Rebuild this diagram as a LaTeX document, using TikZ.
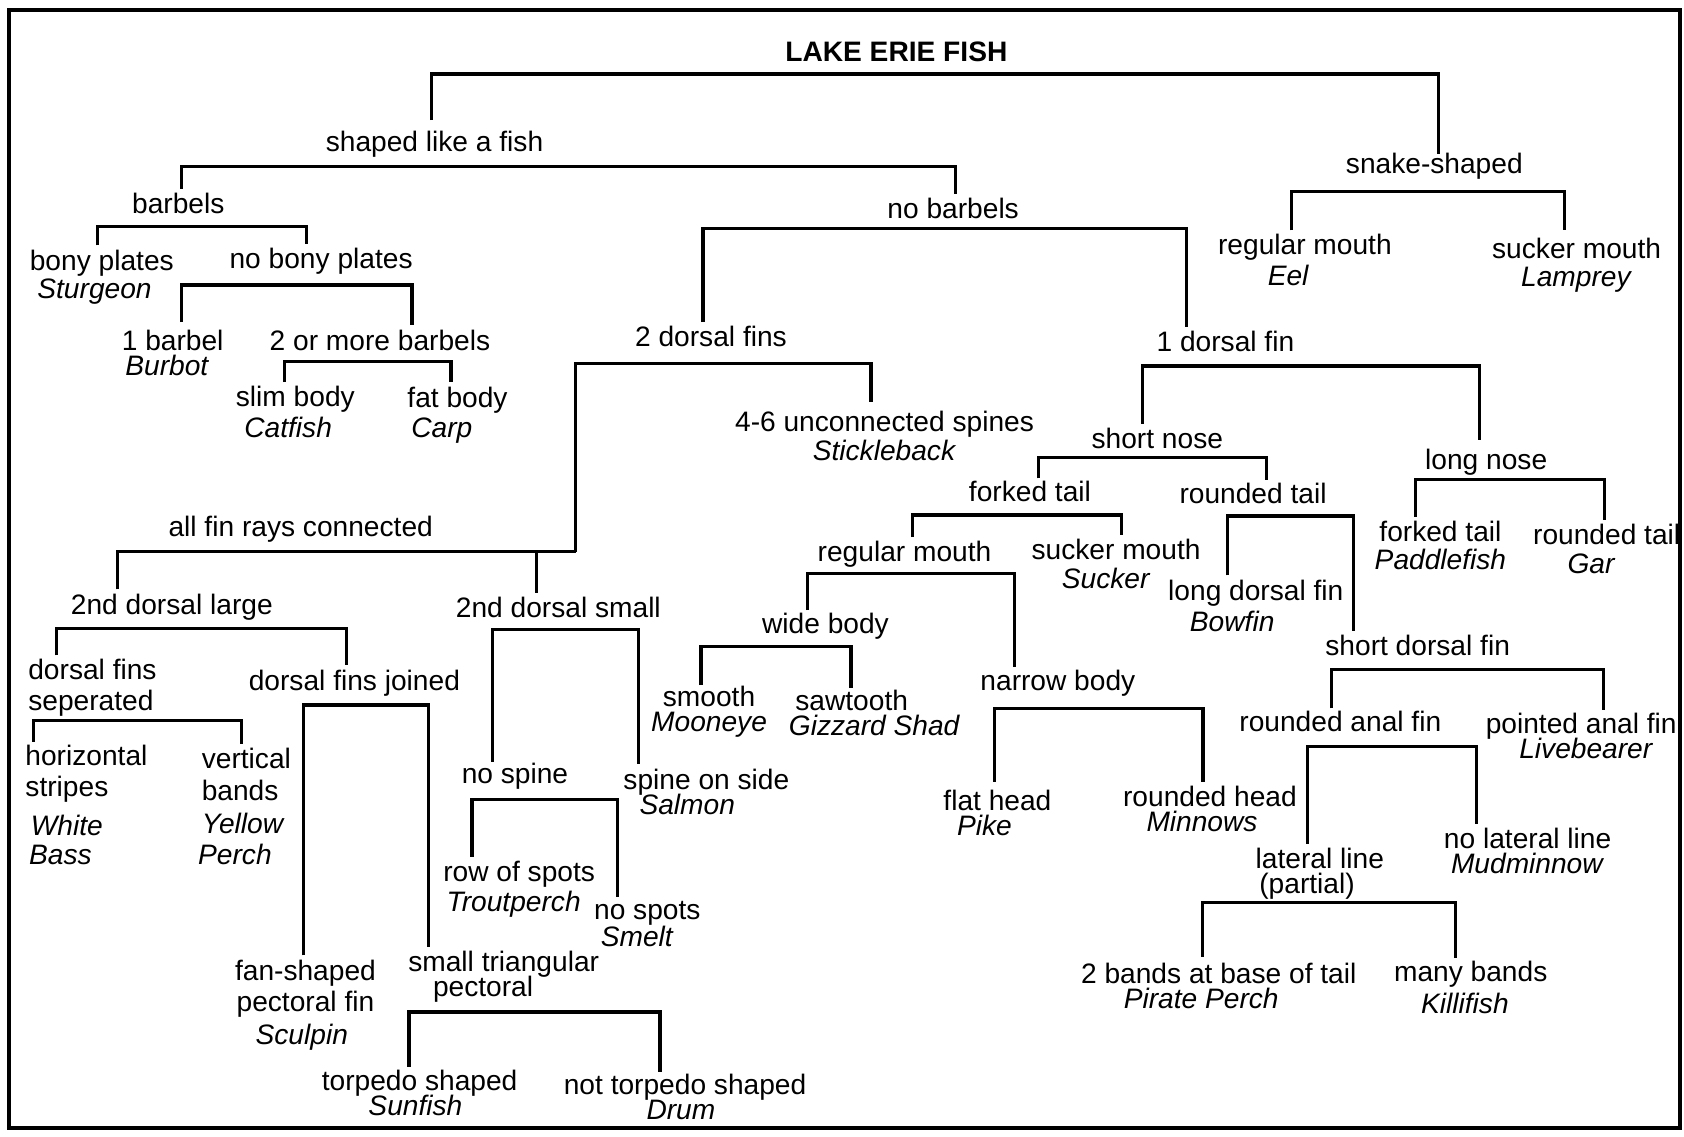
\documentclass[tikz,border=0pt]{standalone}
\usepackage{fontspec}
\setmainfont{Liberation Sans}
\newcommand{\species}[2][0]{\makebox[0pt]{\hspace*{#1pt}\hspace*{#1pt}\textit{#2}}}
\newcommand{\shiftline}[2]{\makebox[0pt]{\hspace*{#1pt}\hspace*{#1pt}#2}}

\begin{document}
\begin{tikzpicture}[
    x=1pt, y=-1pt,
    lbl/.style={
        inner sep=0pt, outer sep=0pt, anchor=base, align=center,
        font={\fontsize{26.2}{23.3}\selectfont\lineskiplimit=-100pt}
    },
    lblleft/.style={lbl, anchor=base west, align=left},
    heading/.style={lbl, font={\fontsize{26.2}{23.3}\selectfont\bfseries}},
    branch/.style={line width=3pt, shorten <=4pt, shorten >=4pt},
    boxline/.style={line width=3.6pt}
]
    \useasboundingbox (0,0) rectangle (1568,1058);
    \draw[boxline] (8.5,9) rectangle (1564,1050);

    \node[heading] (title) at (834.6, 57.4) {LAKE ERIE FISH};
    \node[lbl] (shaped) at (404.6, 141.2) {shaped like a fish};
    \node[lbl] (snake) at (1335.5, 162) {snake-shaped};

    \node[lbl] (barbels) at (166, 198.6) {barbels};
    \node[lbl] (nobarbels) at (887.5, 203.3) {no barbels};
    \node[lbl] (eel) at (1215, 265.4) {regular mouth\\[4.7pt]\species[-15.3]{Eel}};
    \node[lbl] (lamprey) at (1468, 267) {sucker mouth\\[3.2pt]\species{Lamprey}};

    \node[lbl] (sturgeon) at (94.8, 277.7) {bony plates\\[3pt]\species[-6.8]{Sturgeon}};
    \node[lbl] (nobony) at (299, 249.8) {no bony plates};
    \node[lbl] (burbot) at (160.8, 349.2) {1 barbel\\\species[-5]{Burbot}};
    \node[lbl] (morebarbels) at (353.8, 325.9) {2 or more barbels};
    \node[lbl] (catfish) at (275, 407.2) {slim body\\[5.2pt]\species[-6.7]{Catfish}};
    \node[lbl] (carp) at (426, 407) {fat body\\[4.7pt]\species[-14.6]{Carp}};

    \node[lbl] (dorsaltwo) at (662, 322.8) {2 dorsal fins};
    \node[lbl] (dorsalone) at (1141, 327.4) {1 dorsal fin};
    \node[lbl] (stickleback) at (823.6, 428.9) {4-6 unconnected spines\\[3.7pt]\species{Stickleback}};

    \node[lbl] (allrays) at (280, 499.7) {all fin rays connected};
    \node[lbl] (largetwo) at (160, 571.7) {2nd dorsal large};
    \node[lbl] (smalltwo) at (519.9, 574.8) {2nd dorsal small};
    \node[lblleft] (separated) at (26.4, 661.1) {dorsal fins\\[4.7pt]seperated};
    \node[lbl] (joined) at (330, 642.5) {dorsal fins joined};
    \node[lblleft] (whitebass) at (23.7, 805.4) {horizontal\\[6.2pt]stripes\\[12.4pt]\hspace*{5pt}\textit{White}\\[4.6pt]\hspace*{3.4pt}\textit{Bass}};
    \node[lblleft] (yellowperch) at (187.9, 805.4) {vertical\\[6.2pt]bands\\[7.7pt]\textit{Yellow}\\[6.2pt]\hspace*{-3.4pt}\textit{Perch}};
    \node[lbl] (sculpin) at (284.4, 973) {fan-shaped\\[6.2pt]pectoral fin\\[7.7pt]\species[-3.4]{Sculpin}};
    \node[lbl] (triangular) at (469, 928) {small triangular\\\shiftline{-19.2}{pectoral}};
    \node[lbl] (sunfish) at (390.7, 1038.2) {torpedo shaped\\\species[-3.9]{Sunfish}};
    \node[lbl] (drum) at (637.9, 1042.8) {not torpedo shaped\\\species[-3.9]{Drum}};
    \node[lbl] (nospine) at (479.5, 729.4) {no spine};
    \node[lbl] (salmon) at (657.7, 758.8) {spine on side\\[0.7pt]\species[-17.8]{Salmon}};
    \node[lbl] (troutperch) at (483.4, 848.9) {row of spots\\[4.7pt]\species[-5.1]{Troutperch}};
    \node[lbl] (smelt) at (602.7, 881.5) {no spots\\[1.6pt]\species[-9.3]{Smelt}};

    \node[lbl] (shortnose) at (1077.6, 417.4) {short nose};
    \node[lbl] (longnose) at (1383.8, 437.6) {long nose};
    \node[lbl] (forkedtail) at (959, 467.1) {forked tail};
    \node[lbl] (roundedtail) at (1166.7, 468.6) {rounded tail};
    \node[lbl] (paddlefish) at (1341.2, 530.7) {forked tail\\[3.1pt]\species{Paddlefish}};
    \node[lbl] (gar) at (1496, 533.8) {rounded tail\\[3.1pt]\species[-14.2]{Gar}};
    \node[lbl] (regmouth) at (842.2, 523) {regular mouth};
    \node[lbl] (sucker) at (1039.2, 547.8) {sucker mouth\\[3.5pt]\species[-9.3]{Sucker}};
    \node[lbl] (bowfin) at (1169.3, 588.1) {long dorsal fin\\[6.1pt]\species[-22]{Bowfin}};
    \node[lbl] (shortdorsal) at (1320, 610.8) {short dorsal fin};
    \node[lbl] (widebody) at (768.6, 589.7) {wide body};
    \node[lbl] (narrowbody) at (985, 642.5) {narrow body};
    \node[lbl] (mooneye) at (660.2, 681.3) {smooth\\\species{Mooneye}};
    \node[lbl] (shad) at (793, 684.4) {sawtooth\\\species[21.3]{Gizzard Shad}};
    \node[lbl] (pike) at (928.7, 777.5) {flat head\\\species[-12]{Pike}};
    \node[lbl] (minnows) at (1126.6, 774.4) {rounded head\\\species[-7.4]{Minnows}};
    \node[lbl] (roundedanal) at (1248, 681.3) {rounded anal fin};
    \node[lbl] (livebearer) at (1472.3, 706.1) {pointed anal fin\\\species[4.7]{Livebearer}};
    \node[lbl] (lateral) at (1228.9, 831.8) {lateral line\\\shiftline{-11.9}{(partial)}};
    \node[lbl] (mudminnow) at (1422.4, 813.1) {no lateral line\\\species{Mudminnow}};
    \node[lbl] (pirateperch) at (1134.8, 938.9) {2 bands at base of tail\\\species[-16.3]{Pirate Perch}};
    \node[lbl] (killifish) at (1369.4, 943.5) {many bands\\[6.2pt]\species[-5.4]{Killifish}};

    \draw[branch, shorten <=10.4pt, shorten >=0pt] ([xshift=-2.7pt]shaped.north) |- ([yshift=-11.6pt]title.base) -| ([xshift=4pt]snake.north);
    \draw[branch] ([xshift=3.3pt]barbels.north) |- ([yshift=-14pt]shaped.base) -| ([xshift=2.3pt]nobarbels.north);
    \draw[branch, shorten >=7.4pt] ([xshift=-12.5pt]eel.north) |- ([yshift=-16.5pt]snake.base) -| ([xshift=-11.6pt]lamprey.north);
    \draw[branch] ([xshift=-4pt]sturgeon.north) |- ([yshift=-12.4pt]barbels.base) -| ([xshift=-13.6pt]nobony.north);
    \draw[branch, shorten <=7pt] ([xshift=8.5pt]burbot.north) |- ([yshift=-15.6pt]nobony.base) -| ([xshift=29.8pt]morebarbels.north);
    \draw[branch] ([xshift=-10pt]catfish.north) |- ([yshift=-10.9pt]morebarbels.base) -| ([xshift=-6pt]carp.north);
    \draw[branch] ([xshift=-7.5pt]dorsaltwo.north) |- ([yshift=-9.3pt]nobarbels.base) -| ([xshift=-36pt]dorsalone.north);

    \coordinate (join) at (536, 513.6);
    \draw[branch, shorten <=0pt, shorten >=8.8pt] (join) |- ([yshift=-15.5pt]dorsaltwo.base) -| ([xshift=-12.6pt]stickleback.north);
    \draw[branch, shorten >=0pt] ([xshift=-50.6pt]largetwo.north) |- (join);
    \draw[branch, shorten >=0pt] ([xshift=-20.5pt]smalltwo.north) -- ([xshift=-20.5pt]smalltwo.north |- join);
    \draw[branch] ([xshift=26.1pt]separated.north west) |- ([yshift=-13.3pt]largetwo.base) -| ([xshift=-7.4pt]joined.north);
    \draw[branch, shorten <=2.6pt] ([xshift=7.8pt]whitebass.north west) |- ([yshift=-9.9pt]separated.base) -| ([xshift=37.2pt]yellowperch.north west);
    \draw[branch] ([xshift=-1.5pt]sculpin.north) |- ([yshift=-13.9pt]joined.base) -| ([xshift=-70pt]triangular.north);
    \draw[branch, shorten <=2.6pt, shorten >=2.6pt] ([xshift=-9.8pt]sunfish.north) |- ([yshift=-14.3pt]triangular.base) -| ([xshift=-23.4pt]drum.north);
    \draw[branch, shorten <=1.1pt] ([xshift=-20.7pt]nospine.north) |- ([yshift=-11.2pt]smalltwo.base) -| ([xshift=-63.5pt]salmon.north);
    \draw[branch] ([xshift=-43.9pt]troutperch.north) |- ([yshift=-15.2pt]nospine.base) -| ([xshift=-27.7pt]smelt.north);

    \draw[branch, shorten >=8.8pt] ([xshift=-13.9pt]shortnose.north) |- ([yshift=-13.4pt]dorsalone.base) -| ([xshift=-6.2pt]longnose.north);
    \draw[branch, shorten <=2.6pt, shorten >=2.6pt] ([xshift=7.7pt]forkedtail.north) |- ([yshift=-8.5pt]shortnose.base) -| ([xshift=12.7pt]roundedtail.north);
    \draw[branch] ([xshift=7.6pt]regmouth.north) |- ([yshift=-12.4pt]forkedtail.base) -| ([xshift=5.3pt]sucker.north);
    \draw[branch] ([xshift=-26.4pt]bowfin.north) |- ([yshift=-11.8pt]roundedtail.base) -| ([xshift=-59.9pt]shortdorsal.north);
    \draw[branch] ([xshift=-22.9pt]paddlefish.north) |- ([yshift=-8.7pt]longnose.base) -| ([xshift=-1.7pt]gar.north);
    \draw[branch, shorten <=2.6pt, shorten >=2.6pt] ([xshift=-16.9pt]widebody.north) |- ([yshift=-10.8pt]regmouth.base) -| ([xshift=-40.4pt]narrowbody.north);
    \draw[branch, shorten <=1.1pt, shorten >=1.1pt] ([xshift=-7.4pt]mooneye.north) |- ([yshift=-12.4pt]widebody.base) -| ([xshift=-0.7pt]shad.north);
    \draw[branch, shorten <=7.3pt] ([xshift=-2.7pt]pike.north) |- ([yshift=-17pt]narrowbody.base) -| ([xshift=-6.4pt]minnows.north);
    \draw[branch, shorten <=2.7pt, shorten >=2.7pt] ([xshift=-8.2pt]roundedanal.north) |- ([yshift=-12.4pt]shortdorsal.base) -| ([xshift=20.4pt]livebearer.north);
    \draw[branch] ([xshift=-11.5pt]lateral.north) |- ([yshift=-13.9pt]roundedanal.base) -| ([xshift=-47.3pt]mudminnow.north);
    \draw[branch, shorten <=5.7pt, shorten >=2.6pt] ([xshift=-15.2pt]pirateperch.north) |- ([yshift=-8.5pt]lateral.base) -| ([xshift=-13.9pt]killifish.north);
\end{tikzpicture}
\end{document}
